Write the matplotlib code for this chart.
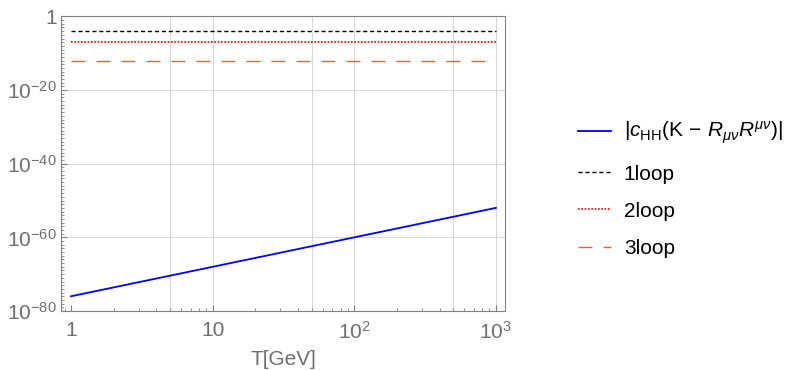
import matplotlib
matplotlib.use("Agg")
import matplotlib.pyplot as plt
from matplotlib.ticker import LogLocator, FixedLocator, NullFormatter

plt.rcParams["font.family"] = ["Liberation Sans", "DejaVu Sans"]
plt.rcParams["mathtext.fontset"] = "custom"
plt.rcParams["mathtext.rm"] = "Liberation Sans"
plt.rcParams["mathtext.it"] = "Liberation Sans:italic"

# data
T_GEV = [1, 10, 100, 1000]
C_HH = [1e-76, 1e-68, 1e-60, 1e-52]
T_RANGE = [1, 1000]
ONE_LOOP = [1e-4, 1e-4]
TWO_LOOP = [1e-7, 1e-7]
THREE_LOOP = [1e-12, 1e-12]

GRAY = "#808080"
TEXT_GRAY = "#6e6e6e"

fig = plt.figure(figsize=(8.02, 3.70), dpi=100)
ax = fig.add_axes([61 / 802, 1 - 311 / 370, 444 / 802, 295 / 370])

ax.plot(T_GEV, C_HH, color="#0000ff", lw=1.3,
        label=r"$|c_{\rm HH}(\mathrm{K}\,-\,R_{\mu\nu}R^{\mu\nu})|$")
ax.plot(T_RANGE, ONE_LOOP, color="black", lw=1.0, ls=(0, (3, 2)), label="1loop")
ax.plot(T_RANGE, TWO_LOOP, color="#ff0000", lw=1.2, ls=(0, (1, 1)), label="2loop")
ax.plot(T_RANGE, THREE_LOOP, color="#ff5a36", lw=1.0, ls=(0, (10, 8)), label="3loop")

ax.set_xscale("log")
ax.set_yscale("log")
ax.set_xlim(0.85, 1160)
ax.set_ylim(1e-80, 1.3)

ax.set_yticks([1, 1e-20, 1e-40, 1e-60, 1e-80])
ax.set_yticklabels(["1", r"$10^{-20}$", r"$10^{-40}$", r"$10^{-60}$", r"$10^{-80}$"])
ax.yaxis.set_minor_locator(FixedLocator([10.0 ** -k for k in range(0, 81) if k % 20]))
ax.yaxis.set_minor_formatter(NullFormatter())

ax.set_xticks([1, 10, 100, 1000])
ax.set_xticklabels(["1", "10", r"$10^{2}$", r"$10^{3}$"])
ax.xaxis.set_minor_locator(LogLocator(base=10, subs=range(2, 10), numticks=20))
ax.xaxis.set_minor_formatter(NullFormatter())

for v in [5, 10, 50, 100, 500, 1000]:
    ax.axvline(v, color="#d9d9d9", lw=0.8, zorder=0)
for v in [1e-20, 1e-40, 1e-60]:
    ax.axhline(v, color="#d9d9d9", lw=0.8, zorder=0)

for s in ax.spines.values():
    s.set_color(GRAY)
ax.tick_params(which="both", colors=GRAY, labelcolor=TEXT_GRAY, labelsize=15, direction="in")
ax.tick_params(which="major", length=4)
ax.tick_params(which="minor", length=2)
ax.tick_params(axis="x", which="both", pad=7)
ax.tick_params(axis="y", which="both", pad=3)

ax.set_xlabel("T[GeV]", fontsize=15, color=TEXT_GRAY, labelpad=5)

fig.legend(*ax.get_legend_handles_labels(), loc="upper left",
           bbox_to_anchor=(578 / 802, 1 - 120 / 370), frameon=False,
           fontsize=15, handlelength=1.6, labelspacing=0.87, handletextpad=0.6,
           borderpad=0, borderaxespad=0)

fig.savefig("out.png", dpi=100)
